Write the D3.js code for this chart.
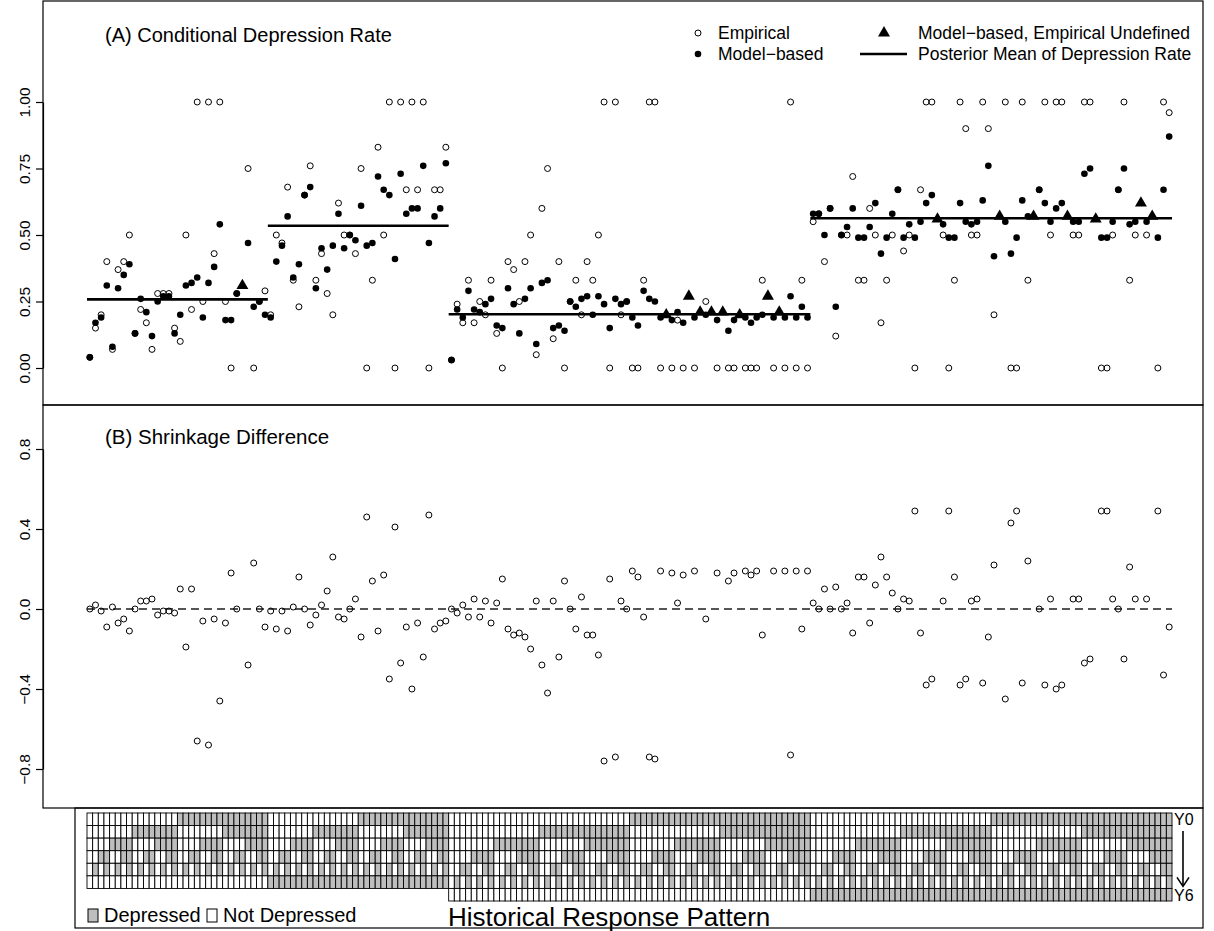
<!DOCTYPE html>
<html>
<head>
<meta charset="utf-8">
<script src="https://cdnjs.cloudflare.com/ajax/libs/d3/7.8.5/d3.min.js"></script>
<style>
  body { margin: 0; background: #fff; }
  svg text { font-family: "Liberation Sans", Arial, sans-serif; fill: #000; }
</style>
</head>
<body>
<div id="chart"></div>
<script>
// conditional depression rate per history pattern (null = empirical undefined)
var empG1 = [.04,.15,.20,.40,.07,.37,.40,.50,.13,.22,.17,.07,.28,.28,.28,.15,.10,.50,.22,1.0,.25,1.0,.43,1.0,.25,0,.28,null,.75,0,.25,.29];
var modG1 = [.04,.17,.19,.31,.08,.30,.35,.39,.13,.26,.21,.12,.25,.27,.27,.13,.20,.31,.32,.34,.19,.32,.38,.54,.18,.18,.28,.31,.47,.23,.25,.20];
var empG2 = [.20,.50,.47,.68,.33,.23,.65,.76,.33,.43,.28,.20,.62,.50,.50,.43,.75,0,.33,.83,.50,1.0,0,1.0,.67,1.0,.67,1.0,0,.67,.67,.83];
var modG2 = [.19,.40,.46,.57,.34,.39,.65,.68,.30,.45,.37,.46,.58,.45,.50,.48,.61,.46,.47,.72,.67,.65,.41,.73,.58,.60,.60,.76,.47,.57,.60,.77];
var empG3 = [.03,.24,.17,.33,.17,.25,.20,.33,.13,0,.40,.37,.25,.40,.50,.05,.60,.75,.11,.40,0,.25,.33,.20,.40,.33,.50,1.0,0,1.0,.20,.25,
             0,0,.33,1.0,1.0,0,null,0,.18,0,null,0,null,.25,null,0,null,0,0,null,0,0,0,.33,null,0,null,0,1.0,0,.33,0];
var modG3 = [.03,.22,.19,.29,.22,.21,.24,.26,.16,.15,.30,.24,.13,.26,.30,.09,.32,.33,.15,.16,.14,.25,.23,.26,.27,.20,.27,.24,.15,.26,.24,.25,
             .19,.16,.29,.26,.25,.19,.20,.18,.21,.17,.27,.19,.21,.20,.21,.18,.21,.14,.18,.20,.19,.17,.19,.20,.27,.19,.21,.19,.27,.19,.23,.19];
var empG4 = [.55,.58,.40,.60,.12,.50,.50,.72,.33,.33,.60,.50,.17,.33,.50,.67,.44,.50,0,.67,1.0,1.0,null,.50,0,.33,1.0,.90,.50,.50,1.0,.90,
             .20,null,1.0,0,0,1.0,.33,null,.67,1.0,.50,1.0,1.0,null,.50,.50,1.0,1.0,null,0,0,.50,.67,1.0,.33,.50,null,.50,null,0,1.0,.96];
var modG4 = [.58,.58,.50,.60,.23,.50,.53,.60,.49,.49,.53,.62,.43,.49,.58,.67,.49,.54,.49,.55,.62,.65,.56,.54,.49,.49,.62,.55,.54,.55,.63,.76,
             .42,.57,.55,.43,.49,.63,.57,.57,.67,.62,.55,.60,.62,.57,.55,.55,.73,.75,.56,.49,.49,.55,.67,.75,.54,.55,.62,.55,.57,.49,.67,.87];

var postMean = [0.258, 0.535, 0.202, 0.563];

// response pattern rows Y0..Y6 (1 = depressed, 0 = not, . = not shown)
var rowLabels = ["Y0","Y1","Y2","Y3","Y4","Y5","Y6"];
var patRows = [
  ["00000000000000001111111111111111","00000000000000001111111111111111",
   "0000000000000000000000000000000011111111111111111111111111111111","0000000000000000000000000000000011111111111111111111111111111111"],
  ["00000000111111110000000011111111","00000000111111110000000011111111",
   "0000000000000000111111111111111100000000000000001111111111111111","0000000000000000111111111111111100000000000000001111111111111111"],
  ["00001111000011110000111100001111","00001111000011110000111100001111",
   "0000000011111111000000001111111100000000111111110000000011111111","0000000011111111000000001111111100000000111111110000000011111111"],
  ["00110011001100110011001100110011","00110011001100110011001100110011",
   "0000111100001111000011110000111100001111000011110000111100001111","0000111100001111000011110000111100001111000011110000111100001111"],
  ["01010101010101010101010101010101","01010101010101010101010101010101",
   "0011001100110011001100110011001100110011001100110011001100110011","0011001100110011001100110011001100110011001100110011001100110011"],
  ["00000000000000000000000000000000","11111111111111111111111111111111",
   "0101010101010101010101010101010101010101010101010101010101010101","0101010101010101010101010101010101010101010101010101010101010101"],
  ["................................","................................",
   "0000000000000000000000000000000000000000000000000000000000000000","1111111111111111111111111111111111111111111111111111111111111111"]
];

var emp = empG1.concat(empG2, empG3, empG4);
var mod = modG1.concat(modG2, modG3, modG4);
var groupSizes = [empG1.length, empG2.length, empG3.length, empG4.length];
var n = emp.length;

var W = 1214, H = 931;
var svg = d3.select("#chart").append("svg").attr("width", W).attr("height", H);

var x = d3.scaleBand().domain(d3.range(n)).range([87, 1172]).padding(0);
var cx = function(i) { return x(i) + x.bandwidth() / 2; };

var yA = d3.scaleLinear().domain([0, 1]).range([368, 102]);
var yB = d3.scaleLinear().domain([-0.8, 0.8]).range([769, 449]);

// panel frames
svg.append("rect").attr("x", 43).attr("y", 1).attr("width", 1160).attr("height", 404)
  .attr("fill", "none").attr("stroke", "#000").attr("stroke-width", 1.2);
svg.append("rect").attr("x", 43).attr("y", 405).attr("width", 1160).attr("height", 403)
  .attr("fill", "none").attr("stroke", "#000").attr("stroke-width", 1.2);
svg.append("rect").attr("x", 75).attr("y", 808).attr("width", 1128).attr("height", 120)
  .attr("fill", "none").attr("stroke", "#000").attr("stroke-width", 1.2);

function yAxis(scale, ticks, fmt) {
  var g = svg.append("g").attr("transform", "translate(43,0)")
    .call(d3.axisLeft(scale).tickValues(ticks).tickFormat(fmt).tickSize(7).tickSizeOuter(0));
  g.select(".domain").attr("stroke-width", 1.2);
  g.selectAll(".tick line").attr("stroke-width", 1.2);
  g.selectAll(".tick text")
    .attr("transform", "rotate(-90)")
    .attr("x", 0).attr("y", -13).attr("dy", 0)
    .attr("text-anchor", "middle")
    .style("font-size", "15.5px");
  return g;
}
yAxis(yA, [0, 0.25, 0.5, 0.75, 1], d3.format(".2f"));
yAxis(yB, [-0.8, -0.4, 0, 0.4, 0.8], function(d) { return d === 0 ? "0.0" : d3.format(".1f")(d).replace("-", "\u2212"); });

// ---- panel A
var A = svg.append("g");
A.append("text").attr("x", 105).attr("y", 42).style("font-size", "20px").text("(A) Conditional Depression Rate");

var idx = d3.range(n);
A.selectAll("circle.emp").data(idx.filter(function(i) { return emp[i] !== null; })).enter()
  .append("circle").attr("class", "emp")
  .attr("cx", cx).attr("cy", function(i) { return yA(emp[i]); }).attr("r", 3)
  .attr("fill", "none").attr("stroke", "#000").attr("stroke-width", 1);
A.selectAll("circle.mod").data(idx.filter(function(i) { return emp[i] !== null; })).enter()
  .append("circle").attr("class", "mod")
  .attr("cx", cx).attr("cy", function(i) { return yA(mod[i]); }).attr("r", 3.3)
  .attr("fill", "#000");
var tri = d3.symbol().type(d3.symbolTriangle).size(62);
A.selectAll("path.tri").data(idx.filter(function(i) { return emp[i] === null; })).enter()
  .append("path").attr("class", "tri").attr("d", tri)
  .attr("transform", function(i) { return "translate(" + cx(i) + "," + yA(mod[i]) + ")"; })
  .attr("fill", "#000");

var starts = [0];
groupSizes.forEach(function(s, k) { starts.push(starts[k] + s); });
A.selectAll("line.pm").data(postMean).enter().append("line").attr("class", "pm")
  .attr("x1", function(d, k) { return x(starts[k]); })
  .attr("x2", function(d, k) { return x(starts[k + 1] - 1) + x.bandwidth(); })
  .attr("y1", function(d) { return yA(d); }).attr("y2", function(d) { return yA(d); })
  .attr("stroke", "#000").attr("stroke-width", 2.6);

// legend A
var lg = A.append("g").style("font-size", "17.5px");
lg.append("circle").attr("cx", 698).attr("cy", 33).attr("r", 3).attr("fill", "none").attr("stroke", "#000");
lg.append("text").attr("x", 718).attr("y", 39).text("Empirical");
lg.append("circle").attr("cx", 698).attr("cy", 54).attr("r", 3.3).attr("fill", "#000");
lg.append("text").attr("x", 718).attr("y", 60).text("Model\u2212based");
lg.append("path").attr("d", tri).attr("transform", "translate(884,33)").attr("fill", "#000");
lg.append("text").attr("x", 918).attr("y", 39).text("Model\u2212based, Empirical Undefined");
lg.append("line").attr("x1", 860).attr("x2", 907).attr("y1", 54).attr("y2", 54).attr("stroke", "#000").attr("stroke-width", 2.6);
lg.append("text").attr("x", 918).attr("y", 60).text("Posterior Mean of Depression Rate");

// ---- panel B : shrinkage difference = model - empirical
var B = svg.append("g");
B.append("text").attr("x", 105).attr("y", 444).style("font-size", "20.5px").text("(B) Shrinkage Difference");
B.append("line").attr("x1", 87).attr("x2", 1172).attr("y1", yB(0)).attr("y2", yB(0))
  .attr("stroke", "#555").attr("stroke-width", 2).attr("stroke-dasharray", "8,5");
B.selectAll("circle").data(idx.filter(function(i) { return emp[i] !== null; })).enter()
  .append("circle").attr("cx", cx).attr("cy", function(i) { return yB(mod[i] - emp[i]); }).attr("r", 3)
  .attr("fill", "none").attr("stroke", "#000").attr("stroke-width", 1);

// ---- panel C : historical response pattern grid
var yC = d3.scaleBand().domain(rowLabels).range([813, 901]);
var cells = [];
patRows.forEach(function(parts, r) {
  parts.join("").split("").forEach(function(ch, c) {
    if (ch !== ".") cells.push({ r: rowLabels[r], c: c, v: ch });
  });
});
var C = svg.append("g");
C.selectAll("rect.cell").data(cells).enter().append("rect").attr("class", "cell")
  .attr("x", function(d) { return x(d.c); }).attr("y", function(d) { return yC(d.r); })
  .attr("width", x.bandwidth()).attr("height", yC.bandwidth())
  .attr("fill", function(d) { return d.v === "1" ? "#bebebe" : "#fff"; })
  .attr("stroke", "#000").attr("stroke-width", 0.9);

C.append("text").attr("x", 1174).attr("y", yC("Y0") + yC.bandwidth() / 2 + 6).style("font-size", "16px").text("Y0");
C.append("text").attr("x", 1174).attr("y", yC("Y6") + yC.bandwidth() / 2 + 6).style("font-size", "16px").text("Y6");
C.append("line").attr("x1", 1183).attr("x2", 1183).attr("y1", yC("Y0") + 18).attr("y2", yC("Y6") - 3)
  .attr("stroke", "#000").attr("stroke-width", 1.6);
C.append("path").attr("d", "M1177," + (yC("Y6") - 11) + " L1183," + (yC("Y6") - 2) + " L1189," + (yC("Y6") - 11))
  .attr("fill", "none").attr("stroke", "#000").attr("stroke-width", 1.6);

var lc = C.append("g").style("font-size", "20px");
lc.append("rect").attr("x", 88).attr("y", 909).attr("width", 10).attr("height", 13).attr("fill", "#bebebe").attr("stroke", "#000");
lc.append("text").attr("x", 104).attr("y", 922).text("Depressed");
lc.append("rect").attr("x", 207).attr("y", 909).attr("width", 10).attr("height", 13).attr("fill", "#fff").attr("stroke", "#000");
lc.append("text").attr("x", 223).attr("y", 922).text("Not Depressed");
C.append("text").attr("x", 448).attr("y", 926).style("font-size", "26px").text("Historical Response Pattern");
</script>
</body>
</html>
